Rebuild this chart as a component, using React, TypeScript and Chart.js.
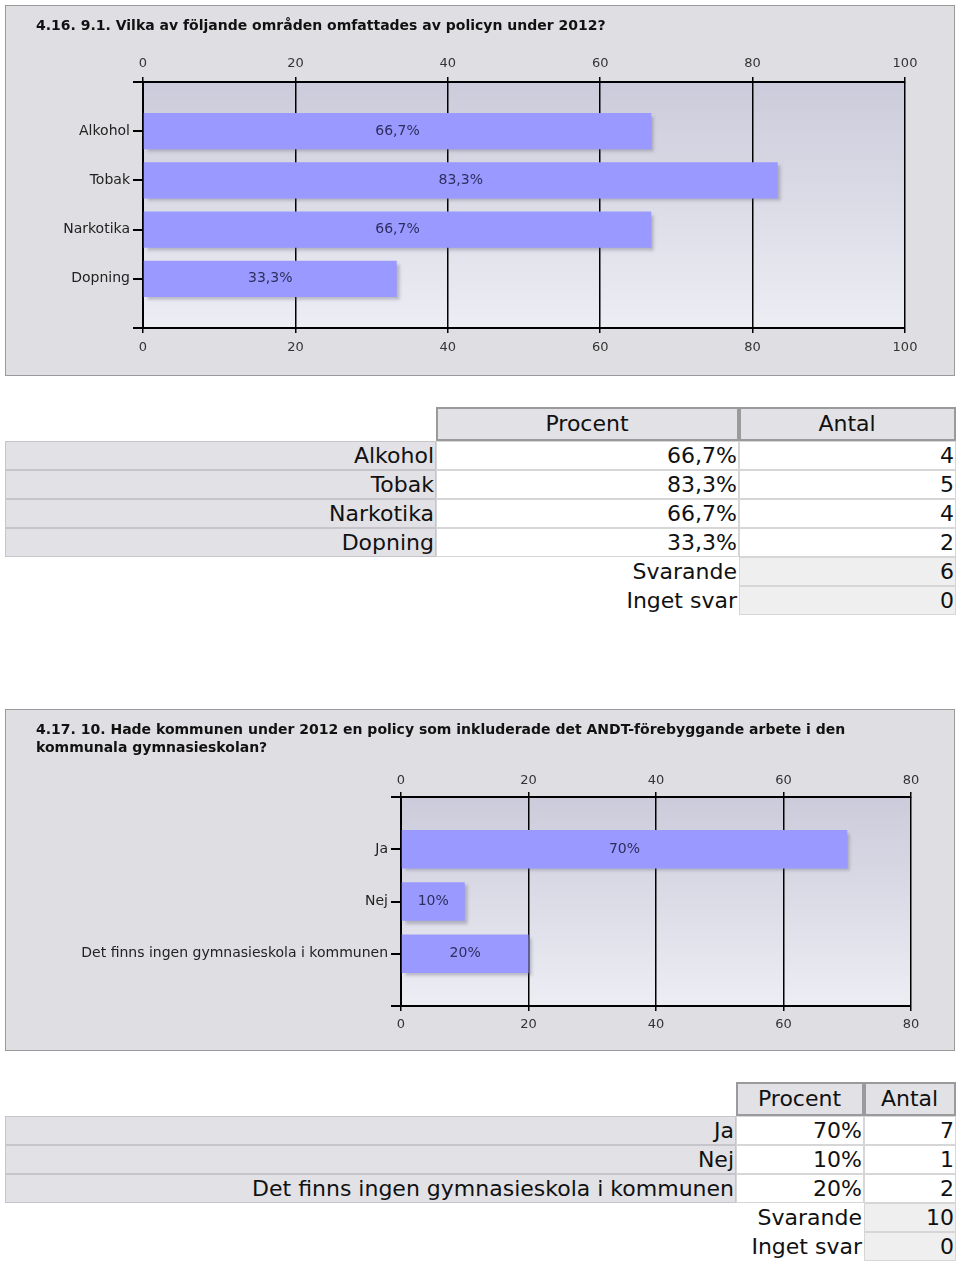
import React, { useEffect, useRef } from 'react';
import { Chart, registerables } from 'chart.js';

Chart.register(...registerables);

// ---------- data ----------
const title1 = ['4.16. 9.1. Vilka av följande områden omfattades av policyn under 2012?'];
const categories1 = ['Alkohol', 'Tobak', 'Narkotika', 'Dopning'];
const percent1 = [66.7, 83.3, 66.7, 33.3];
const counts1 = [4, 5, 4, 2];
const responded1 = 6;
const noAnswer1 = 0;
const xTicks1 = [0, 20, 40, 60, 80, 100];

const title2 = [
  '4.17. 10. Hade kommunen under 2012 en policy som inkluderade det ANDT-förebyggande arbete i den',
  'kommunala gymnasieskolan?',
];
const categories2 = ['Ja', 'Nej', 'Det finns ingen gymnasieskola i kommunen'];
const percent2 = [70, 10, 20];
const counts2 = [7, 1, 2];
const responded2 = 10;
const noAnswer2 = 0;
const xTicks2 = [0, 20, 40, 60, 80];

const headerLabels = ['Procent', 'Antal'];
const footerLabels = ['Svarande', 'Inget svar'];

const fmtPct = (v: number) => String(v).replace('.', ',') + '%';

const FONT = '"DejaVu Sans", Verdana, sans-serif';

type Area = { left: number; right: number; top: number; bottom: number };

function BarPanel(props: {
  top: number;
  height: number;
  titleLines: string[];
  categories: string[];
  values: number[];
  ticks: number[];
  area: Area;
  topPad: number;
  botPad: number;
}) {
  const { top, height, titleLines, categories, values, ticks, area, topPad, botPad } = props;
  const ref = useRef<HTMLCanvasElement | null>(null);
  const W = 948;
  const H = height - 2;

  useEffect(() => {
    if (!ref.current) return;
    const topAxisH = 34;
    const botAxisH = 34;
    const labels = ['', ...categories, ''];
    const data = [null, ...values, null];
    const numFont = { family: FONT, size: 13 };
    const catFont = { family: FONT, size: 14 };

    const bgPlugin = {
      id: 'plotBg',
      beforeDraw(chart: any) {
        const { ctx, chartArea: a } = chart;
        const g = ctx.createLinearGradient(0, a.top, 0, a.bottom);
        g.addColorStop(0, '#cbcbdb');
        g.addColorStop(1, '#ededf4');
        ctx.save();
        ctx.fillStyle = g;
        ctx.fillRect(a.left, a.top, a.right - a.left, a.bottom - a.top);
        ctx.restore();
      },
      beforeDatasetsDraw(chart: any) {
        const ctx = chart.ctx;
        ctx.save();
        ctx.shadowColor = 'rgba(90,90,110,0.35)';
        ctx.shadowOffsetX = 3;
        ctx.shadowOffsetY = 3;
        ctx.shadowBlur = 3;
      },
      afterDatasetsDraw(chart: any) {
        const ctx = chart.ctx;
        ctx.restore();
        const meta = chart.getDatasetMeta(0);
        ctx.save();
        ctx.font = `14px ${FONT}`;
        ctx.fillStyle = '#2e2e5e';
        ctx.textAlign = 'center';
        ctx.textBaseline = 'middle';
        meta.data.forEach((el: any, i: number) => {
          const v = data[i];
          if (v == null) return;
          const p = el.getProps(['x', 'base', 'y'], true);
          ctx.fillText(fmtPct(v as number), (p.x + p.base) / 2, p.y);
        });
        ctx.restore();
      },
    };

    const xCommon = (pos: string, onArea: boolean, pad: number, h: number) => ({
      type: 'linear',
      position: pos,
      min: ticks[0],
      max: ticks[ticks.length - 1],
      afterBuildTicks: (s: any) => {
        s.ticks = ticks.map((v) => ({ value: v }));
      },
      afterFit: (s: any) => {
        s.height = h;
      },
      grid: {
        display: true,
        drawOnChartArea: onArea,
        color: '#000',
        tickColor: '#000',
        lineWidth: 1.5,
        tickLength: 5,
      },
      border: { display: true, color: '#000', width: 2 },
      ticks: { font: numFont, color: '#333', padding: pad, maxRotation: 0 },
    });

    const chart = new Chart(ref.current, {
      type: 'bar',
      data: {
        labels,
        datasets: [
          {
            data,
            backgroundColor: '#9999ff',
            borderWidth: 0,
            barPercentage: 0.735,
            categoryPercentage: 1,
          } as any,
        ],
      },
      options: {
        indexAxis: 'y',
        responsive: false,
        maintainAspectRatio: false,
        animation: false,
        layout: {
          padding: {
            left: 0,
            right: W - area.right,
            top: area.top - topAxisH,
            bottom: H - area.bottom - botAxisH,
          },
        },
        plugins: {
          legend: { display: false },
          tooltip: { enabled: false },
          title: { display: false },
        },
        scales: {
          x: xCommon('bottom', true, botPad, botAxisH) as any,
          x2: xCommon('top', false, topPad, topAxisH) as any,
          y: {
            type: 'category',
            offset: false,
            afterFit: (s: any) => {
              s.width = area.left;
            },
            grid: {
              offset: false,
              color: (c: any) =>
                c.index === 0 || c.index === labels.length - 1 ? '#000' : 'rgba(0,0,0,0)',
              tickColor: '#000',
              lineWidth: 2,
              tickLength: 10,
            },
            border: { display: true, color: '#000', width: 2 },
            ticks: { font: catFont, color: '#222', padding: 3, autoSkip: false },
          } as any,
        },
      },
      plugins: [bgPlugin],
    });
    return () => chart.destroy();
  }, []);

  return (
    <div
      style={{
        position: 'absolute',
        left: 5,
        top,
        width: 950,
        height,
        boxSizing: 'border-box',
        border: '1px solid #9a9a9a',
        background: '#dfdfe3',
      }}
    >
      <canvas ref={ref} width={W} height={H} style={{ display: 'block', width: W, height: H }} />
      <div
        style={{
          position: 'absolute',
          left: 30,
          top: 10,
          fontFamily: FONT,
          fontWeight: 'bold',
          fontSize: 14,
          lineHeight: '18px',
          color: '#111',
          whiteSpace: 'nowrap',
        }}
      >
        {titleLines.map((t, i) => (
          <div key={i}>{t}</div>
        ))}
      </div>
    </div>
  );
}

function DataTable(props: {
  top: number;
  widths: number[];
  categories: string[];
  values: number[];
  counts: number[];
  responded: number;
  noAnswer: number;
}) {
  const { top, widths, categories, values, counts, responded, noAnswer } = props;
  const base: React.CSSProperties = {
    boxSizing: 'border-box',
    padding: '0 1px 0 0',
    height: 29,
    lineHeight: '27px',
    textAlign: 'right',
    verticalAlign: 'middle',
    whiteSpace: 'nowrap',
    overflow: 'hidden',
  };
  const hdr: React.CSSProperties = {
    ...base,
    height: 34,
    lineHeight: '30px',
    textAlign: 'center',
    background: '#e2e2e6',
    border: '2px solid #9a9a9a',
  };
  const lab: React.CSSProperties = { ...base, background: '#e2e2e6', border: '1px solid #c6c6ca' };
  const val: React.CSSProperties = { ...base, background: '#fff', border: '1px solid #d6d6d6' };
  const sum: React.CSSProperties = { ...base, background: '#efefef', border: '1px solid #d6d6d6' };
  const plain: React.CSSProperties = { ...base, border: '1px solid transparent' };
  return (
    <table
      style={{
        position: 'absolute',
        left: 5,
        top,
        borderCollapse: 'separate',
        borderSpacing: 0,
        tableLayout: 'fixed',
        width: widths.reduce((a, b) => a + b, 0),
        fontFamily: FONT,
        fontSize: 22,
        color: '#111',
      }}
    >
      <colgroup>
        {widths.map((w, i) => (
          <col key={i} style={{ width: w }} />
        ))}
      </colgroup>
      <tbody>
        <tr>
          <td style={{ ...plain, height: 34 }}></td>
          <td style={hdr}>{headerLabels[0]}</td>
          <td style={hdr}>{headerLabels[1]}</td>
        </tr>
        {categories.map((c, i) => (
          <tr key={c}>
            <td style={lab}>{c}</td>
            <td style={val}>{fmtPct(values[i])}</td>
            <td style={val}>{counts[i]}</td>
          </tr>
        ))}
        <tr>
          <td style={plain}></td>
          <td style={plain}>{footerLabels[0]}</td>
          <td style={sum}>{responded}</td>
        </tr>
        <tr>
          <td style={plain}></td>
          <td style={plain}>{footerLabels[1]}</td>
          <td style={sum}>{noAnswer}</td>
        </tr>
      </tbody>
    </table>
  );
}

export default function App() {
  return (
    <div style={{ position: 'absolute', left: 0, top: 0, width: 960, height: 1265, background: '#fff' }}>
      <BarPanel
        top={5}
        height={371}
        titleLines={title1}
        categories={categories1}
        values={percent1}
        ticks={xTicks1}
        area={{ left: 137, right: 899, top: 76, bottom: 322 }}
        topPad={6}
        botPad={7}
      />
      <DataTable
        top={407}
        widths={[431, 303, 217]}
        categories={categories1}
        values={percent1}
        counts={counts1}
        responded={responded1}
        noAnswer={noAnswer1}
      />
      <BarPanel
        top={709}
        height={342}
        titleLines={title2}
        categories={categories2}
        values={percent2}
        ticks={xTicks2}
        area={{ left: 395, right: 905, top: 87, bottom: 296 }}
        topPad={4}
        botPad={6}
      />
      <DataTable
        top={1082}
        widths={[731, 128, 92]}
        categories={categories2}
        values={percent2}
        counts={counts2}
        responded={responded2}
        noAnswer={noAnswer2}
      />
    </div>
  );
}
